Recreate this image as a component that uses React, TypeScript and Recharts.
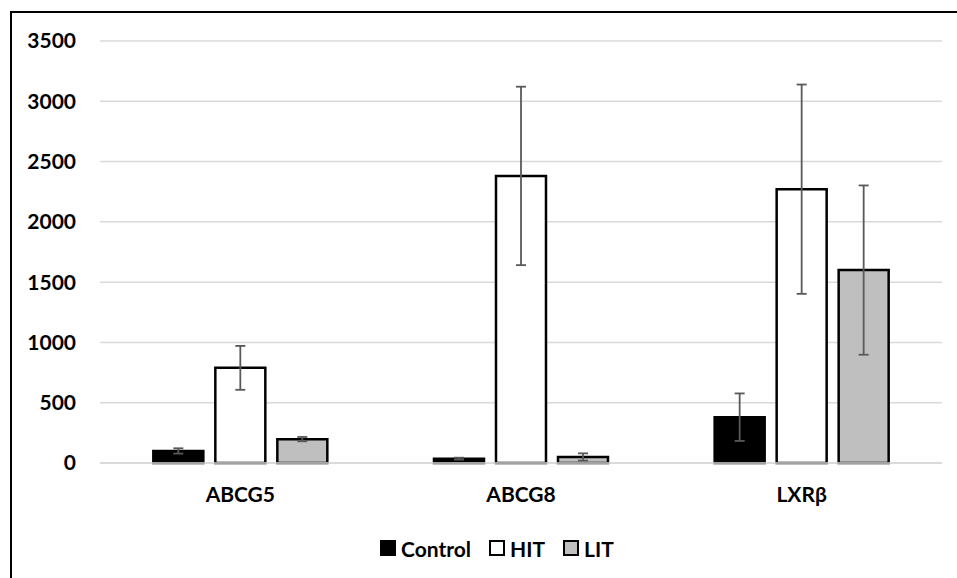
import React from 'react';
import { BarChart, Bar, XAxis, YAxis, CartesianGrid, ErrorBar, Legend } from 'recharts';

// values
const categories = ['ABCG5', 'ABCG8', 'LXRβ'];
const controlValues = [100, 36, 380];
const controlErrors = [22, 8, 197];
const hitValues = [789, 2381, 2271];
const hitErrors = [182, 740, 868];
const litValues = [198, 50, 1600];
const litErrors = [18, 30, 702];
const yTicks = [0, 500, 1000, 1500, 2000, 2500, 3000, 3500];

const series = [
  { key: 'control', name: 'Control', fill: '#000000' },
  { key: 'hit', name: 'HIT', fill: '#ffffff' },
  { key: 'lit', name: 'LIT', fill: '#bfbfbf' },
];

const data = categories.map((name, i) => ({
  name,
  control: controlValues[i],
  controlErr: controlErrors[i],
  hit: hitValues[i],
  hitErr: hitErrors[i],
  lit: litValues[i],
  litErr: litErrors[i],
}));

const FONT = 'Lato, "Open Sans", sans-serif';
const tickStyle = { fill: '#000', fontSize: 21, fontWeight: 700, fontFamily: FONT };

const LegendContent = () => (
  <div
    style={{
      height: 40,
      display: 'flex',
      alignItems: 'center',
      paddingLeft: 380,
      fontFamily: FONT,
      fontWeight: 700,
      fontSize: 21,
      color: '#000',
    }}
  >
    {series.map((s) => (
      <div key={s.key} style={{ display: 'flex', alignItems: 'center', marginRight: 18 }}>
        <span
          style={{
            display: 'inline-block',
            width: 12,
            height: 12,
            background: s.fill,
            border: '2px solid #000',
            marginRight: 5,
          }}
        />
        <span>{s.name}</span>
      </div>
    ))}
  </div>
);

export default function App() {
  return (
    <div style={{ position: 'fixed', left: 0, top: 0, width: 957, height: 578, overflow: 'hidden', background: '#fff' }}>
      <div
        style={{
          position: 'absolute',
          left: 10,
          top: 11,
          width: 980,
          height: 600,
          border: '2px solid #000',
        }}
      />
      <div style={{ position: 'absolute', left: 0, top: 0 }}>
        <BarChart
          width={957}
          height={578}
          data={data}
          margin={{ top: 41, right: 15, bottom: 10, left: 0 }}
          barCategoryGap="19%"
          barGap={12}
        >
          <CartesianGrid vertical={false} stroke="#d9d9d9" strokeWidth={1.5} />
          <XAxis
            dataKey="name"
            height={65}
            tick={tickStyle}
            tickLine={false}
            tickSize={0}
            tickMargin={24}
            axisLine={{ stroke: '#d9d9d9', strokeWidth: 1.5 }}
          />
          <YAxis
            width={100}
            domain={[0, 3500]}
            ticks={yTicks}
            tick={tickStyle}
            tickLine={false}
            tickSize={0}
            tickMargin={24}
            axisLine={false}
          />
          <Legend verticalAlign="bottom" content={<LegendContent />} wrapperStyle={{ left: 0, width: 957 }} />
          {series.map((s) => (
            <Bar
              key={s.key}
              dataKey={s.key}
              name={s.name}
              fill={s.fill}
              stroke="#000"
              strokeWidth={2.5}
              isAnimationActive={false}
            >
              <ErrorBar
                dataKey={s.key + 'Err'}
                width={5}
                stroke="#595959"
                strokeWidth={1.8}
                direction="y"
                isAnimationActive={false}
              />
            </Bar>
          ))}
        </BarChart>
      </div>
    </div>
  );
}
